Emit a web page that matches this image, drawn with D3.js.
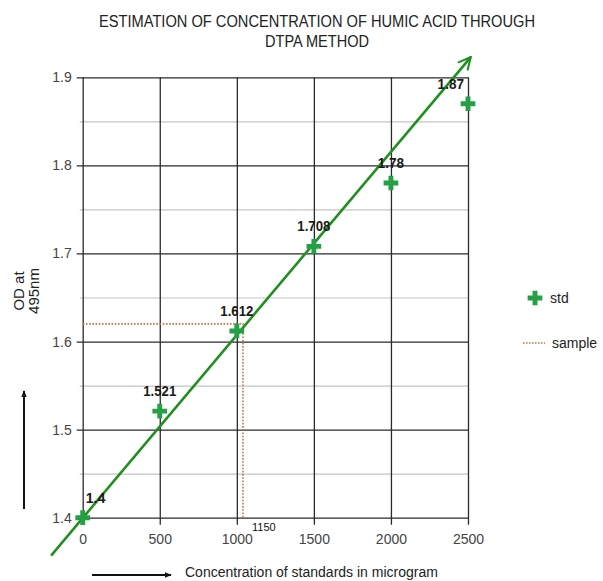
<!DOCTYPE html>
<html>
<head>
<meta charset="utf-8">
<script src="https://cdn.jsdelivr.net/npm/d3@7"></script>
<style>
  body { margin: 0; background: #fff; }
  svg { display: block; font-family: "Liberation Sans", Arial, sans-serif; }
</style>
</head>
<body>
<div id="chart"></div>
<script>
// data
const concentrations = [0, 500, 1000, 1500, 2000, 2500];
const odValues = [1.4, 1.521, 1.612, 1.708, 1.78, 1.87];
const pointLabels = ["1.4", "1.521", "1.612", "1.708", "1.78", "1.87"];

const xTicks = [0, 500, 1000, 1500, 2000, 2500];
const yTicks = [1.4, 1.5, 1.6, 1.7, 1.8, 1.9];
const yMinorTicks = [1.45, 1.55, 1.65, 1.75, 1.85];

// fitted line (drawn as an arrow) and the sample reading
const trendX = [-205, 2518];
const trendY = [1.357, 1.923];
const sampleX = 1040;
const sampleY = 1.62;
const sampleLabel = "1150";

const titleLines = ["ESTIMATION OF CONCENTRATION OF HUMIC ACID THROUGH", "DTPA METHOD"];

const width = 603, height = 581;
const margin = { left: 82.7, right: 135, top: 77.3, bottom: 63.3 };
const innerW = width - margin.left - margin.right;
const innerH = height - margin.top - margin.bottom;

const green = "#1f8f1f";
const markGreen = "#26a046";
const brown = "#c0733d";

const svg = d3.select("#chart")
    .append("svg")
    .attr("width", width)
    .attr("height", height);

const defs = svg.append("defs");
defs.append("marker")
    .attr("id", "arrowGreen")
    .attr("viewBox", "0 0 10 10")
    .attr("refX", 9).attr("refY", 5)
    .attr("markerWidth", 6).attr("markerHeight", 6)
    .attr("markerUnits", "strokeWidth")
    .attr("orient", "auto")
    .append("path")
    .attr("d", "M1,1 L9,5 L1,9")
    .attr("fill", "none")
    .attr("stroke", green)
    .attr("stroke-width", 1.3);
defs.append("marker")
    .attr("id", "arrowBlack")
    .attr("viewBox", "0 0 10 10")
    .attr("refX", 9).attr("refY", 5)
    .attr("markerWidth", 7).attr("markerHeight", 7)
    .attr("markerUnits", "userSpaceOnUse")
    .attr("orient", "auto")
    .append("path")
    .attr("d", "M0,1 L10,5 L0,9 Z")
    .attr("fill", "#111");

// title
svg.selectAll("text.title")
    .data(titleLines)
    .enter()
    .append("text")
    .attr("class", "title")
    .attr("x", 317)
    .attr("y", (d, i) => 27 + i * 20)
    .attr("text-anchor", "middle")
    .attr("font-size", 16)
    .attr("fill", "#222")
    .attr("textLength", (d, i) => i === 0 ? 436 : 104)
    .attr("lengthAdjust", "spacingAndGlyphs")
    .text(d => d);

const g = svg.append("g")
    .attr("transform", `translate(${margin.left},${margin.top})`);

const x = d3.scaleLinear().domain([0, 2500]).range([0, innerW]);
const y = d3.scaleLinear().domain([1.4, 1.9]).range([innerH, 0]);

// minor horizontal grid
g.append("g")
    .attr("class", "grid-minor")
    .call(d3.axisLeft(y).tickValues(yMinorTicks).tickSize(-innerW - 3).tickFormat(""))
    .attr("transform", `translate(-3,0)`)
    .call(a => a.select(".domain").remove())
    .call(a => a.selectAll("line").attr("stroke", "#c4c4c4").attr("stroke-width", 1.2));

// major horizontal grid + y ticks
g.append("g")
    .attr("class", "grid-major-y")
    .attr("transform", `translate(-6,0)`)
    .call(d3.axisLeft(y).tickValues(yTicks).tickSize(-innerW - 6).tickFormat(""))
    .call(a => a.select(".domain").remove())
    .call(a => a.selectAll("line").attr("stroke", "#2a2a2a").attr("stroke-width", 1.3));

// vertical grid + x ticks
g.append("g")
    .attr("class", "grid-major-x")
    .attr("transform", `translate(0,${innerH + 7})`)
    .call(d3.axisBottom(x).tickValues(xTicks).tickSize(-innerH - 7).tickFormat(""))
    .call(a => a.select(".domain").remove())
    .call(a => a.selectAll("line").attr("stroke", "#2a2a2a").attr("stroke-width", 1.3));

// y tick labels
g.append("g")
    .attr("class", "y-axis")
    .call(d3.axisLeft(y).tickValues(yTicks).tickSize(0).tickPadding(11).tickFormat(d3.format(".1f")))
    .call(a => a.select(".domain").remove())
    .call(a => a.selectAll("text").attr("font-size", 14).attr("fill", "#444")
        .attr("font-family", "\"Liberation Sans\", Arial, sans-serif"));

// x tick labels
g.append("g")
    .attr("class", "x-axis")
    .attr("transform", `translate(0,${innerH})`)
    .call(d3.axisBottom(x).tickValues(xTicks).tickSize(0).tickPadding(16).tickFormat(d3.format("d")))
    .call(a => a.select(".domain").remove())
    .call(a => a.selectAll("text").attr("font-size", 14).attr("fill", "#444")
        .attr("font-family", "\"Liberation Sans\", Arial, sans-serif"));

// sample reading (dotted)
g.append("path")
    .attr("d", d3.line()([[x(0), y(sampleY)], [x(sampleX), y(sampleY)], [x(sampleX), y(1.4)]]))
    .attr("fill", "none")
    .attr("stroke", brown)
    .attr("stroke-width", 1.6)
    .attr("stroke-dasharray", "1.6,1.6");

g.append("text")
    .attr("x", x(sampleX) + 9)
    .attr("y", y(1.4) + 13)
    .attr("font-size", 11)
    .attr("fill", "#111")
    .text(sampleLabel);

// trend line with arrow head
g.append("line")
    .attr("x1", x(trendX[0])).attr("y1", y(trendY[0]))
    .attr("x2", x(trendX[1])).attr("y2", y(trendY[1]))
    .attr("stroke", green)
    .attr("stroke-width", 2.6)
    .attr("marker-end", "url(#arrowGreen)");

// std points as plus signs
const plus = d3.symbol().type(d3.symbolCross).size(120);
const pts = concentrations.map((c, i) => ({ c, v: odValues[i], label: pointLabels[i] }));

g.selectAll("path.pt")
    .data(pts)
    .enter()
    .append("path")
    .attr("class", "pt")
    .attr("transform", d => `translate(${x(d.c)},${y(d.v)})`)
    .attr("d", plus)
    .attr("fill", markGreen);

g.selectAll("text.pt-label")
    .data(pts)
    .enter()
    .append("text")
    .attr("class", "pt-label")
    .attr("x", (d, i) => x(d.c) + (i === 0 ? 3 : i === pts.length - 1 ? -4 : 0))
    .attr("y", d => y(d.v) - 15)
    .attr("text-anchor", (d, i) => i === 0 ? "start" : i === pts.length - 1 ? "end" : "middle")
    .attr("font-size", 14)
    .attr("font-weight", "bold")
    .attr("fill", "#1a1a1a")
    .attr("textLength", d => d.label.length * 6.6)
    .attr("lengthAdjust", "spacingAndGlyphs")
    .text(d => d.label);

// y axis title and arrow
const yTitle = svg.append("text")
    .attr("transform", "translate(0,291) rotate(-90)")
    .attr("text-anchor", "middle")
    .attr("font-size", 15)
    .attr("fill", "#222");
yTitle.append("tspan").attr("x", 0).attr("y", 24).text("OD at");
yTitle.append("tspan").attr("x", 0).attr("y", 39).text("495nm");

svg.append("line")
    .attr("x1", 24).attr("y1", 509)
    .attr("x2", 24).attr("y2", 391)
    .attr("stroke", "#111")
    .attr("stroke-width", 2)
    .attr("marker-end", "url(#arrowBlack)");

// x axis title and arrow
svg.append("text")
    .attr("x", 185)
    .attr("y", 577)
    .attr("font-size", 14)
    .attr("fill", "#222")
    .text("Concentration of standards in microgram");

svg.append("line")
    .attr("x1", 92).attr("y1", 575)
    .attr("x2", 171).attr("y2", 575)
    .attr("stroke", "#111")
    .attr("stroke-width", 2)
    .attr("marker-end", "url(#arrowBlack)");

// legend
const legend = svg.append("g").attr("class", "legend");
legend.append("path")
    .attr("transform", "translate(535,298)")
    .attr("d", plus)
    .attr("fill", markGreen);
legend.append("text")
    .attr("x", 550).attr("y", 303)
    .attr("font-size", 14).attr("fill", "#222")
    .text("std");
legend.append("line")
    .attr("x1", 523).attr("y1", 343)
    .attr("x2", 545).attr("y2", 343)
    .attr("stroke", brown)
    .attr("stroke-width", 1.4)
    .attr("stroke-dasharray", "1.5,1.5");
legend.append("text")
    .attr("x", 552).attr("y", 348)
    .attr("font-size", 14).attr("fill", "#222")
    .text("sample");
</script>
</body>
</html>
